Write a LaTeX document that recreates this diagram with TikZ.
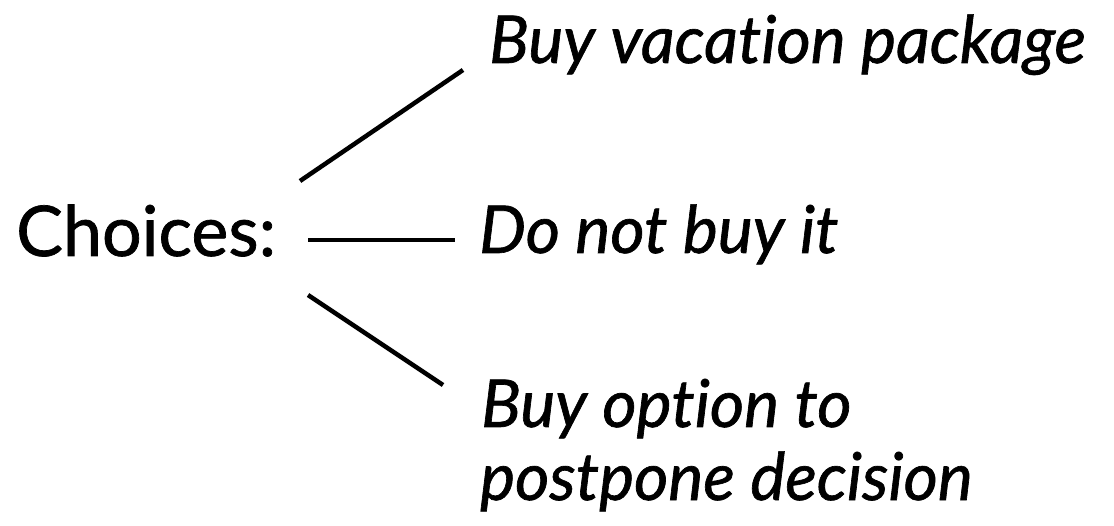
\documentclass[tikz,border=0pt]{standalone}
\usepackage{fontspec}
\setmainfont{Lato}[Ligatures=NoCommon,FakeBold=1]
\begin{document}
\begin{tikzpicture}[x=1pt,y=-1pt,
  lbl/.style={anchor=base west,inner sep=0pt,font=\fontsize{70}{80}\selectfont},
  opt/.style={anchor=base west,inner sep=0pt,font=\fontsize{66}{76}\selectfont\itshape},
  branch/.style={line width=4.5pt}]
\useasboundingbox (0,0) rectangle (1114,526);
\node[lbl] (choices) at (16,256) {Choices:};
\node[opt] (top) at (489,63) {Buy vacation package};
\node[opt] (mid) at (479,253) {Do not buy it};
\node[opt] (bot1) at (481,427) {Buy option to};
\node[opt] (bot2) at (480,500) {postpone decision};
\coordinate (a1) at (300,181);
\coordinate (b1) at (463,70);
\coordinate (a2) at (308,240);
\coordinate (b2) at (455,240);
\coordinate (a3) at (308,295);
\coordinate (b3) at (443,385);
\draw[branch] (a1) -- (b1);
\draw[branch] (a2) -- (b2);
\draw[branch] (a3) -- (b3);
\end{tikzpicture}
\end{document}
